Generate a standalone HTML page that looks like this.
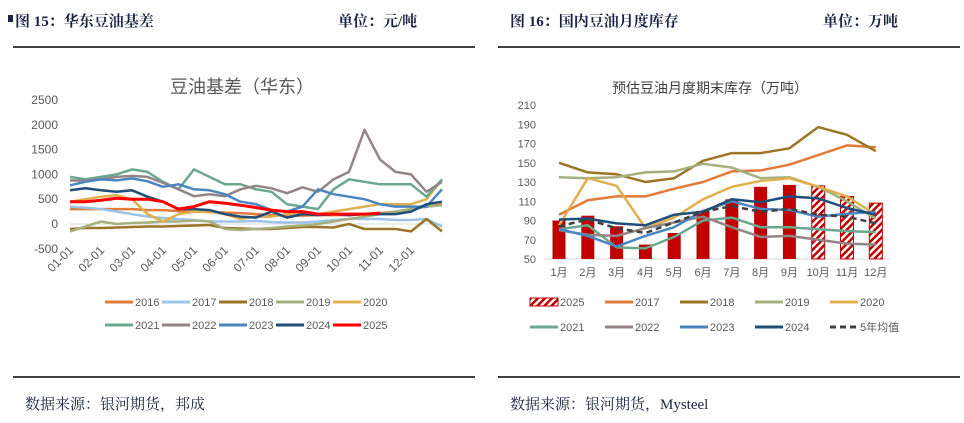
<!DOCTYPE html>
<html><head><meta charset="utf-8"><style>
body{margin:0;background:#fff;width:964px;height:423px;overflow:hidden}
svg{display:block}
.hd{font-family:"Liberation Serif","Noto Serif CJK SC",serif;font-weight:bold;font-size:15px;fill:#1a2440}
.ft{font-family:"Liberation Serif","Noto Serif CJK SC",serif;font-size:15px;fill:#1a2440}
.tk{font-family:"Liberation Sans","Noto Sans CJK SC",sans-serif;font-size:11px;fill:#595959}
.tkl{font-family:"Liberation Sans","Noto Sans CJK SC",sans-serif;font-size:12px;fill:#595959}
.lg{font-family:"Liberation Sans","Noto Sans CJK SC",sans-serif;font-size:11px;fill:#595959}
</style></head><body>
<svg id="s" width="964" height="423" xmlns="http://www.w3.org/2000/svg">
<defs><pattern id="hatch" width="5" height="5" patternUnits="userSpaceOnUse" patternTransform="rotate(45)"><rect width="5" height="5" fill="#fff"/><rect width="2.5" height="5" fill="#c00000"/></pattern></defs>
<g>
<rect x="8" y="15" width="5" height="7" fill="#1a2440"/>
<text class="hd" x="15" y="26">图 15：华东豆油基差</text>
<text class="hd" x="338" y="26">单位：元/吨</text>
<line x1="13" y1="47" x2="475" y2="47" stroke="#000" stroke-width="1.5"/>
</g>
<g>
<text class="hd" x="510" y="26">图 16：国内豆油月度库存</text>
<text class="hd" x="823" y="26">单位：万吨</text>
<line x1="498" y1="47" x2="960" y2="47" stroke="#000" stroke-width="1.5"/>
</g>
<line x1="13" y1="377" x2="475" y2="377" stroke="#000" stroke-width="1.5"/>
<line x1="498" y1="377" x2="960" y2="377" stroke="#000" stroke-width="1.5"/>
<text class="ft" x="25" y="409">数据来源：银河期货，邦成</text>
<text class="ft" x="510" y="409">数据来源：银河期货，Mysteel</text>
<text x="170" y="93" font-family="Liberation Sans,Noto Sans CJK SC,sans-serif" font-size="18" fill="#595959">豆油基差（华东）</text>
<text x="612" y="93" font-family="Liberation Sans,Noto Sans CJK SC,sans-serif" font-size="14" fill="#404040">预估豆油月度期末库存（万吨）</text>
<g id="L"></g><g id="R"></g>
</svg>
<script>
// ---- left chart data ----
const lTicks=[2500,2000,1500,1000,500,0,-500];
const lMonths=["01-01","02-01","03-01","04-01","05-01","06-01","07-01","08-01","09-01","10-01","11-01","12-01"];
const lYears=["2016","2017","2018","2019","2020","2021","2022","2023","2024","2025"];
const lColors=["#e07b39","#9dc3e6","#9c7427","#a5b07f","#e0b050","#6aa88e","#918585","#4a86c0","#1f4e79","#ff0000"];
const s2016=[300,300,300,300,300,280,280,260,250,240,230,220,200,180,170,170,180,180,180,200,220,250,300,350,400];
const s2017=[350,330,300,250,200,150,120,100,80,50,50,50,60,40,30,30,50,80,100,100,100,80,80,100,-50];
const s2018=[-100,-80,-80,-70,-60,-50,-50,-40,-30,-20,-80,-90,-100,-100,-80,-60,-60,-70,0,-100,-100,-100,-150,100,-150];
const s2019=[-150,-50,50,0,20,30,50,50,70,50,-100,-120,-100,-80,-50,-30,0,50,100,150,200,250,300,350,380];
const s2020=[450,500,550,580,500,200,50,200,250,250,200,100,150,150,200,200,200,250,300,350,400,400,400,500,900];
const s2021=[950,900,950,1000,1100,1050,850,700,1100,950,800,800,700,650,400,350,300,700,900,850,800,800,800,550,900];
const s2022=[880,870,900,950,970,950,830,700,560,600,560,700,770,720,620,740,650,900,1050,1900,1300,1050,1000,650,850];
const s2023=[780,850,900,880,920,860,750,800,700,680,600,450,400,280,250,350,700,600,550,500,400,350,350,350,700];
const s2024=[680,720,680,650,680,550,450,300,300,280,200,150,130,250,130,200,180,200,180,200,200,200,250,400,450];
const s2025=[450,450,480,520,500,500,450,300,350,450,420,380,330,280,250,250,200,200,200,200,220,null,null,null,null];
const lSeries=[s2016,s2017,s2018,s2019,s2020,s2021,s2022,s2023,s2024,s2025];
// ---- right chart data ----
const rTicks=[210,190,170,150,130,110,90,70,50];
const rCats=["1月","2月","3月","4月","5月","6月","7月","8月","9月","10月","11月","12月"];
const bars2025=[90,95,84,65,77,100,112,125,127,126,115,108];
const forecastFrom=9;
const r2017=[96,111,115,115,123,130,141,142,148,158,168,166];
const r2018=[150,140,138,130,134,152,160,160,165,187,179,162];
const r2019=[135,134,135,140,141,149,145,134,135,125,110,92];
const r2020=[85,134,126,82,93,112,125,131,134,125,115,96];
const r2021=[81,85,62,61,73,90,93,83,83,81,79,78];
const r2022=[80,75,74,82,88,94,83,73,74,70,66,65];
const r2023=[81,74,63,74,83,100,110,102,101,94,97,99];
const r2024=[91,92,87,85,96,99,112,109,115,113,103,96];
const rAvg=[84,91,82,77,88,99,105,99,102,96,94,87];
const rLines=[r2017,r2018,r2019,r2020,r2021,r2022,r2023,r2024];
const rNames=["2017","2018","2019","2020","2021","2022","2023","2024"];
const rColors=["#e07b39","#9c7427","#a5b07f","#e0b050","#6aa88e","#918585","#4a86c0","#1f4e79"];

const NS="http://www.w3.org/2000/svg";
function mk(p,t,a){const e=document.createElementNS(NS,t);for(const k in a)e.setAttribute(k,a[k]);p.appendChild(e);return e;}
// left
const L=document.getElementById('L');
const ly=v=>224-v*0.0496, lx=t=>70+t*31;
lTicks.forEach(v=>{const t=mk(L,'text',{x:58,y:ly(v)+4,'text-anchor':'end',class:'tkl'});t.textContent=v;
});
mk(L,'line',{x1:70,y1:ly(0),x2:lx(12),y2:ly(0),stroke:'#d9d9d9'});
lMonths.forEach((m,i)=>{const t=mk(L,'text',{transform:`translate(${lx(i)+4},${251}) rotate(-45)`,'text-anchor':'end',class:'tkl'});t.textContent=m;
});
lSeries.forEach((s,k)=>{let d='';s.forEach((v,i)=>{if(v===null)return;d+=(d?'L':'M')+lx(i*0.5).toFixed(1)+','+ly(v).toFixed(1);});
const p=mk(L,'path',{d:d,fill:'none',stroke:lColors[k],'stroke-width':k==9?3:2.5,'stroke-linejoin':'round'});

const r=Math.floor(k/5),c=k%5,x0=105+c*57,y0=302+r*23;
const g=mk(L,'g',{});
mk(g,'line',{x1:x0,y1:y0,x2:x0+28,y2:y0,stroke:lColors[k],'stroke-width':3});
const t=mk(g,'text',{x:x0+30,y:y0+4,class:'lg'});t.textContent=lYears[k];});
// right
const R=document.getElementById('R');
const ry=v=>259-(v-50)*154/160, rx=i=>559+i*28.8;
rTicks.forEach(v=>{const t=mk(R,'text',{x:536,y:ry(v)+4,'text-anchor':'end',class:'tk'});t.textContent=v;
});
mk(R,'line',{x1:544,y1:ry(50),x2:890,y2:ry(50),stroke:'#d9d9d9'});
rCats.forEach((c,i)=>{const t=mk(R,'text',{x:rx(i),y:276,'text-anchor':'middle',class:'tk'});t.textContent=c;
});
bars2025.forEach((v,i)=>{const h=i>=forecastFrom;const b=mk(R,'rect',{x:rx(i)-6.5,y:ry(v),width:13,height:ry(50)-ry(v),fill:h?'url(#hatch)':'#c00000',stroke:h?'#c00000':'none','stroke-width':1});
});
function rline(s,col,dash,name){let d='';s.forEach((v,i)=>{d+=(i?'L':'M')+rx(i).toFixed(1)+','+ry(v).toFixed(1);});
const p=mk(R,'path',{d:d,fill:'none',stroke:col,'stroke-width':2.5,'stroke-linejoin':'round'});if(dash)p.setAttribute('stroke-dasharray','6,4');
}
rLines.forEach((s,k)=>rline(s,rColors[k],false,'line-'+rNames[k]));
rline(rAvg,'#404040',true,'line-5yr-avg');
const legs=[["2025",'bar'],...rNames.map((n,k)=>[n,rColors[k]]),["5年均值",'dash']];
legs.forEach((e,k)=>{const r=Math.floor(k/5),c=k%5,x0=530+c*75,y0=302+r*25;
const g=mk(R,'g',{});
if(e[1]=='bar')mk(g,'rect',{x:x0,y:y0-4,width:28,height:8,fill:'url(#hatch)',stroke:'#c00000'});
else if(e[1]=='dash')mk(g,'line',{x1:x0,y1:y0,x2:x0+28,y2:y0,stroke:'#404040','stroke-width':3,'stroke-dasharray':'6,4'});
else mk(g,'line',{x1:x0,y1:y0,x2:x0+28,y2:y0,stroke:e[1],'stroke-width':3});
const t=mk(g,'text',{x:x0+30,y:y0+4,class:'lg'});t.textContent=e[0];});
</script>
</body></html>
